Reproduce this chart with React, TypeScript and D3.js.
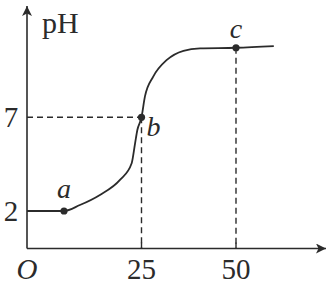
import React from "react";
import * as d3 from "d3";

const volumes = [4.5, 8.7, 14.0, 19.3, 22.4, 23.3, 23.9, 25, 25.9, 28.1, 31.7, 36.1, 40.5, 50, 60];
const phValues = [2, 2.32, 2.86, 3.66, 4.55, 5.61, 6.32, 7, 8.1, 9.17, 10.06, 10.55, 10.68, 10.71, 10.8];
const xTicks = [25, 50];
const yTicks = [2, 7];
const pointLabels = ["a", "b", "c"];
const pointVolumes = [4.5, 25, 50];
const pointPh = [2, 7, 10.71];

const W = 328;
const H = 284;
const axisX = 27;
const axisY = 248.5;
const axisRight = 326;
const axisTop = 6;
const ink = "#2b2b2b";

export default function App() {
  const x = d3.scaleLinear().domain([0, 50]).range([47, 236]);
  const y = d3.scaleLinear().domain([0, 7]).range([axisY, 117.3]);
  const startV = x.invert(axisX);
  const pts: [number, number][] = [[startV, phValues[0]], ...volumes.map((v, i) => [v, phValues[i]] as [number, number])];
  const line = d3
    .line<[number, number]>()
    .x((d) => x(d[0]))
    .y((d) => y(d[1]))
    .curve(d3.curveMonotoneX);
  const labelDx = [0, 12, 0];
  const labelDy = [-13, 19, -10];
  return (
    <svg width={W} height={H} style={{ position: "absolute", left: 0, top: 0, background: "#fff" }}>
      <defs>
        <marker id="arr" viewBox="0 0 10 10" refX="10" refY="5" markerWidth="10" markerHeight="10" markerUnits="userSpaceOnUse" orient="auto">
          <path d="M0,0 L10,5 L0,10 L2.5,5 Z" fill={ink} />
        </marker>
      </defs>
      {/* axes */}
      <line x1={axisX} y1={axisY} x2={axisX} y2={axisTop} stroke={ink} strokeWidth={1.6} markerEnd="url(#arr)" />
      <line x1={axisX} y1={axisY} x2={axisRight} y2={axisY} stroke={ink} strokeWidth={1.6} markerEnd="url(#arr)" />
      {/* dashed guides */}
      <line x1={axisX} x2={x(25)} y1={y(7)} y2={y(7)} stroke={ink} strokeWidth={1.4} strokeDasharray="6,4" />
      <line x1={x(25)} x2={x(25)} y1={y(7)} y2={axisY} stroke={ink} strokeWidth={1.4} strokeDasharray="6,4" />
      <line x1={x(50)} x2={x(50)} y1={y(pointPh[2])} y2={axisY} stroke={ink} strokeWidth={1.4} strokeDasharray="6,4" />
      {/* curve */}
      <path d={line(pts) || ""} fill="none" stroke={ink} strokeWidth={1.8} />
      {pointVolumes.map((v, i) => (
        <circle key={i} cx={x(v)} cy={y(pointPh[i])} r={3.6} fill={ink} />
      ))}
      {pointLabels.map((t, i) => (
        <text key={t} x={x(pointVolumes[i]) + labelDx[i]} y={y(pointPh[i]) + labelDy[i]} textAnchor="middle" fontFamily="Liberation Serif" fontStyle="italic" fontSize={28} fill={ink}>
          {t}
        </text>
      ))}
      {/* ticks */}
      {xTicks.map((t) => (
        <g key={t}>
          <line x1={x(t)} x2={x(t)} y1={axisY} y2={axisY - 6} stroke={ink} strokeWidth={1.4} />
          <text x={x(t)} y={279} textAnchor="middle" fontFamily="Liberation Serif" fontSize={29} fill={ink}>
            {t}
          </text>
        </g>
      ))}
      {yTicks.map((t) => (
        <text key={t} x={11} y={y(t) + 10} textAnchor="middle" fontFamily="Liberation Serif" fontSize={29} fill={ink}>
          {t}
        </text>
      ))}
      <text x={axisX} y={279} textAnchor="middle" fontFamily="Liberation Serif" fontStyle="italic" fontSize={29} fill={ink}>
        O
      </text>
      <text x={42} y={33} fontFamily="Liberation Serif" fontSize={30} fill={ink}>
        pH
      </text>
    </svg>
  );
}
